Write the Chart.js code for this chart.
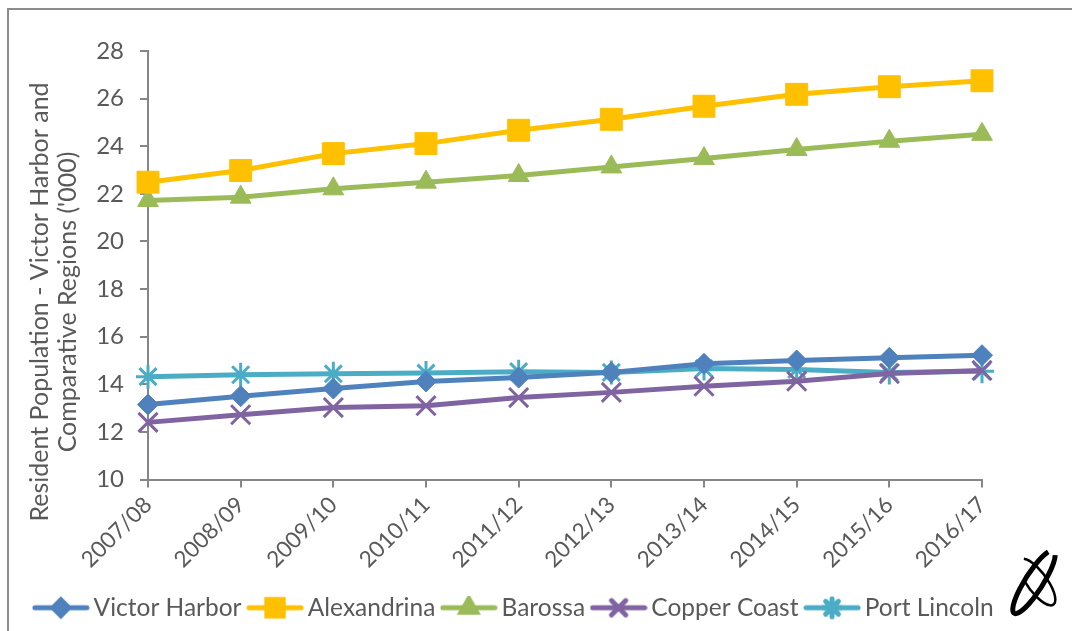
<!DOCTYPE html>
<html>
<head>
<meta charset="utf-8">
<script src="https://cdn.jsdelivr.net/npm/chart.js@4"></script>
<style>
  html, body { margin: 0; padding: 0; background: #fff; }
  #wrap { position: relative; width: 1072px; height: 631px; overflow: hidden; }
  #frame { position: absolute; left: 7px; top: 8px; right: -10px; bottom: -10px;
           border-left: 2px solid #8c8c8c; border-top: 2px solid #8c8c8c; }
  canvas { position: absolute; left: 0; top: 0; }
</style>
</head>
<body>
<div id="wrap">
  <div id="frame"></div>
  <canvas id="chart" width="1072" height="631"></canvas>
</div>
<script>
// Years on the x axis
const categories = ["2007/08", "2008/09", "2009/10", "2010/11", "2011/12",
                    "2012/13", "2013/14", "2014/15", "2015/16", "2016/17"];

// Resident population ('000)
const victorHarbor = [13.15, 13.5, 13.82, 14.12, 14.28, 14.5, 14.86, 15.0, 15.11, 15.22];
const alexandrina  = [22.49, 22.98, 23.69, 24.11, 24.67, 25.13, 25.68, 26.18, 26.5, 26.75];
const barossa      = [21.72, 21.86, 22.21, 22.49, 22.77, 23.13, 23.48, 23.86, 24.21, 24.5];
const copperCoast  = [12.4, 12.72, 13.02, 13.1, 13.44, 13.66, 13.92, 14.13, 14.45, 14.58];
const portLincoln  = [14.32, 14.4, 14.44, 14.47, 14.53, 14.5, 14.66, 14.62, 14.5, 14.55];

const seriesNames = ["Victor Harbor", "Alexandrina", "Barossa", "Copper Coast", "Port Lincoln"];
const yTitle = ["Resident Population - Victor Harbor and", "Comparative Regions ('000)"];

const FONT = "Lato, 'Open Sans', sans-serif";
const TEXT = "#595959";
const AXIS = "#868686";

const styles = [
    { color: "#4F81BD", point: "rectRot", radius: 10.5 },
    { color: "#FFC000", point: "rect", radius: 15.5 },
    { color: "#9BBB59", point: "triangle", radius: 12 },
    { color: "#8064A2", point: "crossRot", radius: 13.5 },
    { color: "#4BACC6", point: "star", radius: 12 }
];

// small line + marker picture for the legend, like Excel does
function legendIcon(style) {
    const c = document.createElement("canvas");
    c.width = 58; c.height = 24;
    const g = c.getContext("2d");
    g.strokeStyle = style.color;
    g.fillStyle = style.color;
    g.lineWidth = 5;
    g.lineCap = "round";
    g.beginPath(); g.moveTo(3, 12); g.lineTo(55, 12); g.stroke();
    const r = style.radius * 0.75;
    Chart.helpers.drawPoint(g, {
        pointStyle: style.point, radius: r, borderWidth: 3, rotation: 0
    }, 29, 12);
    if (style.point !== "crossRot" && style.point !== "star") g.fill();
    return c;
}

// y axis title, Excel centres it a little lower than the plot
const yTitlePlugin = {
    id: "yTitle",
    afterDraw(chart) {
        const g = chart.ctx;
        g.save();
        g.font = "25px " + FONT;
        g.fillStyle = TEXT;
        g.textAlign = "center";
        g.textBaseline = "middle";
        g.translate(0, 302);
        g.rotate(-Math.PI / 2);
        g.fillText(yTitle[0], 0, 40);
        g.fillText(yTitle[1], 0, 68);
        g.restore();
    }
};

// move the legend a bit left, it is centred under the plot in the reference
const legendShift = {
    id: "legendShift",
    afterLayout(chart) {
        const l = chart.legend;
        l.left -= 26; l.right -= 26;
        l.top += 3; l.bottom += 3;
    }
};

// the little swirl logo at the bottom right
const logoPlugin = {
    id: "logo",
    afterDraw(chart) {
        const g = chart.ctx;
        g.save();
        g.translate(1034, 582);
        g.strokeStyle = "#000";
        g.lineWidth = 5;
        g.beginPath();
        g.ellipse(0, 0, 37, 9, -Math.PI * 0.32, 0.4, Math.PI * 1.85);
        g.stroke();
        g.lineWidth = 2.5;
        g.beginPath();
        g.ellipse(3, 0, 28, 10, Math.PI * 0.3, Math.PI * 1.1, Math.PI * 2.6);
        g.stroke();
        g.restore();
    }
};

const allData = [victorHarbor, alexandrina, barossa, copperCoast, portLincoln];

const datasets = allData.map((data, i) => ({
    label: seriesNames[i],
    data: data,
    borderColor: styles[i].color,
    backgroundColor: styles[i].color,
    borderWidth: 5,
    pointStyle: styles[i].point,
    pointRadius: styles[i].radius,
    pointBorderWidth: (styles[i].point === "crossRot" || styles[i].point === "star") ? 3 : 1,
    pointBorderColor: styles[i].color,
    pointBackgroundColor: styles[i].color,
    tension: 0
}));

new Chart(document.getElementById("chart"), {
    type: "line",
    data: { labels: categories, datasets: datasets },
    plugins: [legendShift, yTitlePlugin, logoPlugin],
    options: {
        responsive: false,
        animation: false,
        layout: { padding: { left: 14, top: 51, right: 0, bottom: 4 } },
        plugins: {
            tooltip: { enabled: false },
            legend: {
                position: "bottom",
                labels: {
                    font: { family: FONT, size: 24.5 },
                    color: TEXT,
                    usePointStyle: true,
                    pointStyleWidth: 41,
                    boxHeight: 24,
                    padding: 13,
                    generateLabels: (chart) => chart.data.datasets.map((ds, i) => ({
                        text: ds.label,
                        pointStyle: legendIcon(styles[i]),
                        fillStyle: "transparent",
                        strokeStyle: "transparent",
                        lineWidth: 0,
                        fontColor: TEXT,
                        datasetIndex: i
                    }))
                }
            }
        },
        scales: {
            x: {
                offset: false,
                afterFit: (scale) => { scale.height = 100; },
                grid: { drawOnChartArea: false, drawTicks: true, tickLength: 8, color: AXIS, lineWidth: 2 },
                border: { color: AXIS, width: 2 },
                ticks: {
                    font: { family: FONT, size: 22.5 },
                    color: TEXT,
                    maxRotation: 45,
                    minRotation: 45,
                    padding: 4,
                    autoSkip: false
                }
            },
            y: {
                min: 10,
                max: 28,
                afterFit: (scale) => { scale.width = 134; },
                grid: { drawOnChartArea: false, drawTicks: true, tickLength: 8, color: AXIS, lineWidth: 2 },
                border: { color: AXIS, width: 2 },
                ticks: {
                    stepSize: 2,
                    font: { family: FONT, size: 24 },
                    color: TEXT,
                    padding: 16
                }
            },
            // empty axis on the right, only keeps space free for the logo
            yRight: {
                position: "right",
                display: true,
                afterFit: (scale) => { scale.width = 90; },
                grid: { display: false },
                border: { display: false },
                ticks: { display: false }
            }
        }
    }
});
</script>
</body>
</html>
